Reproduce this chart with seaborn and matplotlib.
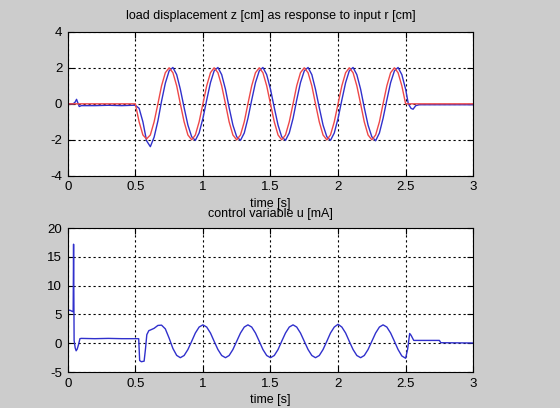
import matplotlib
matplotlib.use("Agg")
import matplotlib.pyplot as plt
import seaborn as sns

# %%
## dados

# sinal de entrada r e deslocamento z antes da excitação
t_pre_r = [0.0, 0.5]
r_pre = [0.0, 0.0]
t_pre_z = [0.0, 0.04, 0.055, 0.065, 0.075, 0.085, 0.1, 0.2, 0.3, 0.4, 0.48]
z_pre = [0.0, 0.0, 0.1, 0.25, 0.05, -0.15, -0.1, -0.1, -0.08, -0.1, -0.08]

# trecho senoidal (0.5 s a 2.5 s)
t_wave = [0.500, 0.528, 0.556, 0.583, 0.611, 0.639, 0.667, 0.694, 0.722, 0.750, 0.778, 0.806,
          0.833, 0.861, 0.889, 0.917, 0.944, 0.972, 1.000, 1.028, 1.056, 1.083, 1.111, 1.139,
          1.167, 1.194, 1.222, 1.250, 1.278, 1.306, 1.333, 1.361, 1.389, 1.417, 1.444, 1.472,
          1.500, 1.528, 1.556, 1.583, 1.611, 1.639, 1.667, 1.694, 1.722, 1.750, 1.778, 1.806,
          1.833, 1.861, 1.889, 1.917, 1.944, 1.972, 2.000, 2.028, 2.056, 2.083, 2.111, 2.139,
          2.167, 2.194, 2.222, 2.250, 2.278, 2.306, 2.333, 2.361, 2.389, 2.417, 2.444, 2.472,
          2.500]
r_wave = [0, -1.0, -1.73, -1.95, -1.73, -1.0, 0, 1.0, 1.73, 2.0, 1.73, 1.0,
          0, -1.0, -1.73, -2.0, -1.73, -1.0, 0, 1.0, 1.73, 2.0, 1.73, 1.0,
          0, -1.0, -1.73, -2.0, -1.73, -1.0, 0, 1.0, 1.73, 2.0, 1.73, 1.0,
          0, -1.0, -1.73, -2.0, -1.73, -1.0, 0, 1.0, 1.73, 2.0, 1.73, 1.0,
          0, -1.0, -1.73, -2.0, -1.73, -1.0, 0, 1.0, 1.73, 2.0, 1.73, 1.0,
          0, -1.0, -1.73, -2.0, -1.73, -1.0, 0, 1.0, 1.73, 2.0, 1.73, 1.0,
          0]
z_wave = [-0.08, -0.25, -1.0, -2.05, -2.38, -1.85, -0.95, 0.15, 1.15, 1.83, 2.02, 1.62,
          0.81, -0.21, -1.18, -1.83, -2.03, -1.62, -0.81, 0.21, 1.18, 1.83, 2.02, 1.62,
          0.81, -0.21, -1.18, -1.83, -2.03, -1.62, -0.81, 0.21, 1.18, 1.83, 2.02, 1.62,
          0.81, -0.21, -1.18, -1.83, -2.03, -1.62, -0.81, 0.21, 1.18, 1.83, 2.02, 1.62,
          0.81, -0.21, -1.18, -1.83, -2.03, -1.62, -0.81, 0.21, 1.18, 1.83, 2.02, 1.62,
          0.81, -0.21, -1.18, -1.83, -2.05, -1.62, -0.81, 0.21, 1.18, 1.83, 2.02, 1.62,
          0.81]

# depois da excitação
t_post_r = [3.0]
r_post = [0.0]
t_post_z = [2.52, 2.54, 2.555, 2.575, 2.6, 2.8, 3.0]
z_post = [0.0, -0.25, -0.3, -0.1, -0.05, -0.05, -0.05]

# variável de controle u
t_u_pre = [0.0, 0.02, 0.035, 0.04, 0.043, 0.047, 0.055, 0.062, 0.07, 0.08, 0.09,
           0.1, 0.2, 0.3, 0.4, 0.5, 0.525, 0.532, 0.545, 0.565, 0.575, 0.585, 0.6]
u_pre = [5.8, 5.7, 5.5, 5.5, 17.2, 0.5, -0.8, -1.3, -1.0, -0.2, 0.8,
         0.85, 0.8, 0.85, 0.8, 0.8, 0.8, -3.0, -3.2, -3.1, -1.0, 1.5, 2.2]
t_u_wave = t_wave[4:]
u_wave = [2.3, 2.6, 3.1, 3.15, 2.5, 0.9, -0.9, -2.1,
          -2.5, -2.12, -1.08, 0.35, 1.78, 2.82, 3.2, 2.82, 1.78, 0.35, -1.08, -2.12,
          -2.5, -2.12, -1.08, 0.35, 1.78, 2.82, 3.2, 2.82, 1.78, 0.35, -1.08, -2.12,
          -2.5, -2.12, -1.08, 0.35, 1.78, 2.82, 3.2, 2.82, 1.78, 0.35, -1.08, -2.12,
          -2.5, -2.12, -1.08, 0.35, 1.78, 2.82, 3.3, 2.82, 1.78, 0.35, -1.08, -2.12,
          -2.5, -2.12, -1.08, 0.35, 1.78, 2.82, 3.2, 2.82, 1.78, 0.35, -1.08, -2.2,
          -2.6]
t_u_post = [2.515, 2.53, 2.54, 2.56, 2.75, 2.76, 3.0]
u_post = [-1.0, 1.7, 1.4, 0.5, 0.5, 0.1, 0.05]

# %%
## montando as séries

t_r = t_pre_r + t_wave + t_post_r
r = r_pre + r_wave + r_post
t_z = t_pre_z + t_wave + t_post_z
z = z_pre + z_wave + z_post
t_u = t_u_pre + t_u_wave + t_u_post
u = u_pre + u_wave + u_post

# %%
## gráfico estilo MATLAB

plt.rcParams['font.family'] = ['Liberation Sans', 'DejaVu Sans']
plt.rcParams['axes.unicode_minus'] = False

fig = plt.figure(figsize=(5.6, 4.08), dpi=100)
fig.patch.set_facecolor("#cccccc")

ax1 = fig.add_axes([0.121, 0.569, 0.724, 0.353])
ax2 = fig.add_axes([0.121, 0.088, 0.724, 0.353])

azul = "#3030cc"
vermelho = "#ee4848"

sns.lineplot(x=t_z, y=z, ax=ax1, color=azul, lw=1.0, sort=False, estimator=None)
sns.lineplot(x=t_r, y=r, ax=ax1, color=vermelho, lw=1.0, sort=False, estimator=None)
sns.lineplot(x=t_u, y=u, ax=ax2, color=azul, lw=1.0, sort=False, estimator=None)

ax1.set_ylim(-4, 4)
ax1.set_yticks([-4, -2, 0, 2, 4])
ax2.set_ylim(-5, 20)
ax2.set_yticks([-5, 0, 5, 10, 15, 20])

for ax in (ax1, ax2):
    ax.set_facecolor("white")
    ax.set_xlim(0, 3)
    ax.set_xticks([0, 0.5, 1, 1.5, 2, 2.5, 3])
    ax.set_xticklabels(["0", "0.5", "1", "1.5", "2", "2.5", "3"])
    ax.grid(True, color="black", linestyle=(0, (2, 2.5)), linewidth=0.8)
    ax.tick_params(direction="in", top=True, right=True, length=4, labelsize=9.5, pad=4)
    for s in ax.spines.values():
        s.set_color("black")
        s.set_linewidth(0.8)
    ax.set_xlabel("time [s]", fontsize=9, labelpad=3)
    ax.set_ylabel("")

ax1.set_title("load displacement z [cm] as response to input r [cm]", fontsize=9, pad=9)
ax2.set_title("control variable u [mA]", fontsize=9, pad=8)

plt.savefig("out.png", dpi=100, facecolor=fig.get_facecolor())
